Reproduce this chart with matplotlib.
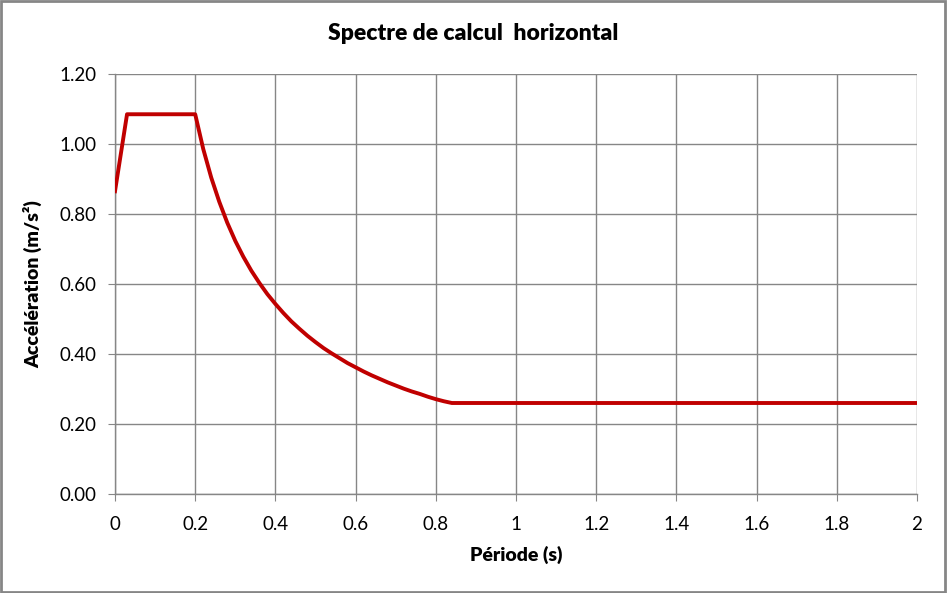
import matplotlib
matplotlib.use("Agg")
import matplotlib.pyplot as plt
from matplotlib.patches import Rectangle

periods = [0.0, 0.03, 0.20, 0.22, 0.24, 0.26, 0.28, 0.30, 0.32, 0.34, 0.36, 0.38,
           0.40, 0.42, 0.44, 0.46, 0.48, 0.50, 0.52, 0.54, 0.56, 0.58, 0.60,
           0.62, 0.64, 0.66, 0.68, 0.70, 0.72, 0.74, 0.76, 0.78, 0.80, 0.82,
           0.84, 2.0]
accel = [0.865, 1.085, 1.085, 0.986, 0.904, 0.835, 0.775, 0.723, 0.678, 0.638,
         0.603, 0.571, 0.543, 0.517, 0.493, 0.472, 0.452, 0.434, 0.417, 0.402,
         0.388, 0.374, 0.362, 0.350, 0.339, 0.329, 0.319, 0.310, 0.301, 0.293,
         0.286, 0.278, 0.271, 0.265, 0.260, 0.260]
xticks = [0, 0.2, 0.4, 0.6, 0.8, 1, 1.2, 1.4, 1.6, 1.8, 2]
xticklabels = ["0", "0.2", "0.4", "0.6", "0.8", "1", "1.2", "1.4", "1.6", "1.8", "2"]
yticks = [0.0, 0.2, 0.4, 0.6, 0.8, 1.0, 1.2]
yticklabels = ["0.00", "0.20", "0.40", "0.60", "0.80", "1.00", "1.20"]

plt.rcParams['font.family'] = ['Lato', 'DejaVu Sans']

fig = plt.figure(figsize=(9.47, 5.93), dpi=100)
ax = fig.add_axes([115/947, 1-494/593, (917-115)/947, (494-74)/593])

ax.plot(periods, accel, color="#C00000", lw=2.8, solid_joinstyle="round", zorder=3)
ax.set_xlim(0, 2)
ax.set_ylim(0, 1.2)
ax.set_xticks(xticks)
ax.set_xticklabels(xticklabels)
ax.set_yticks(yticks)
ax.set_yticklabels(yticklabels)
ax.grid(True, color="#868686", lw=1.0)
ax.set_axisbelow(True)
for s in ["top", "right"]:
    ax.spines[s].set_visible(False)
for s in ["left", "bottom"]:
    ax.spines[s].set_color("#868686")
    ax.spines[s].set_linewidth(1.0)
ax.tick_params(axis="both", direction="out", length=5, color="#868686",
               labelsize=13.5, labelcolor="black", pad=8)
ax.tick_params(axis="x", pad=11)

ax.set_xlabel("Période (s)", fontsize=14, fontweight="heavy", labelpad=9)
ax.set_ylabel("Accélération (m/s²)", fontsize=14, fontweight="heavy", labelpad=13)
fig.text(0.5, 1-33/593, "Spectre de calcul  horizontal", ha="center", va="center",
         fontsize=16.5, fontweight="heavy")

fig.patches.append(Rectangle((0.001, 0.002), 0.997, 0.996, transform=fig.transFigure,
                             fill=False, edgecolor="#868686", lw=2))
fig.savefig("out.png", dpi=100)
